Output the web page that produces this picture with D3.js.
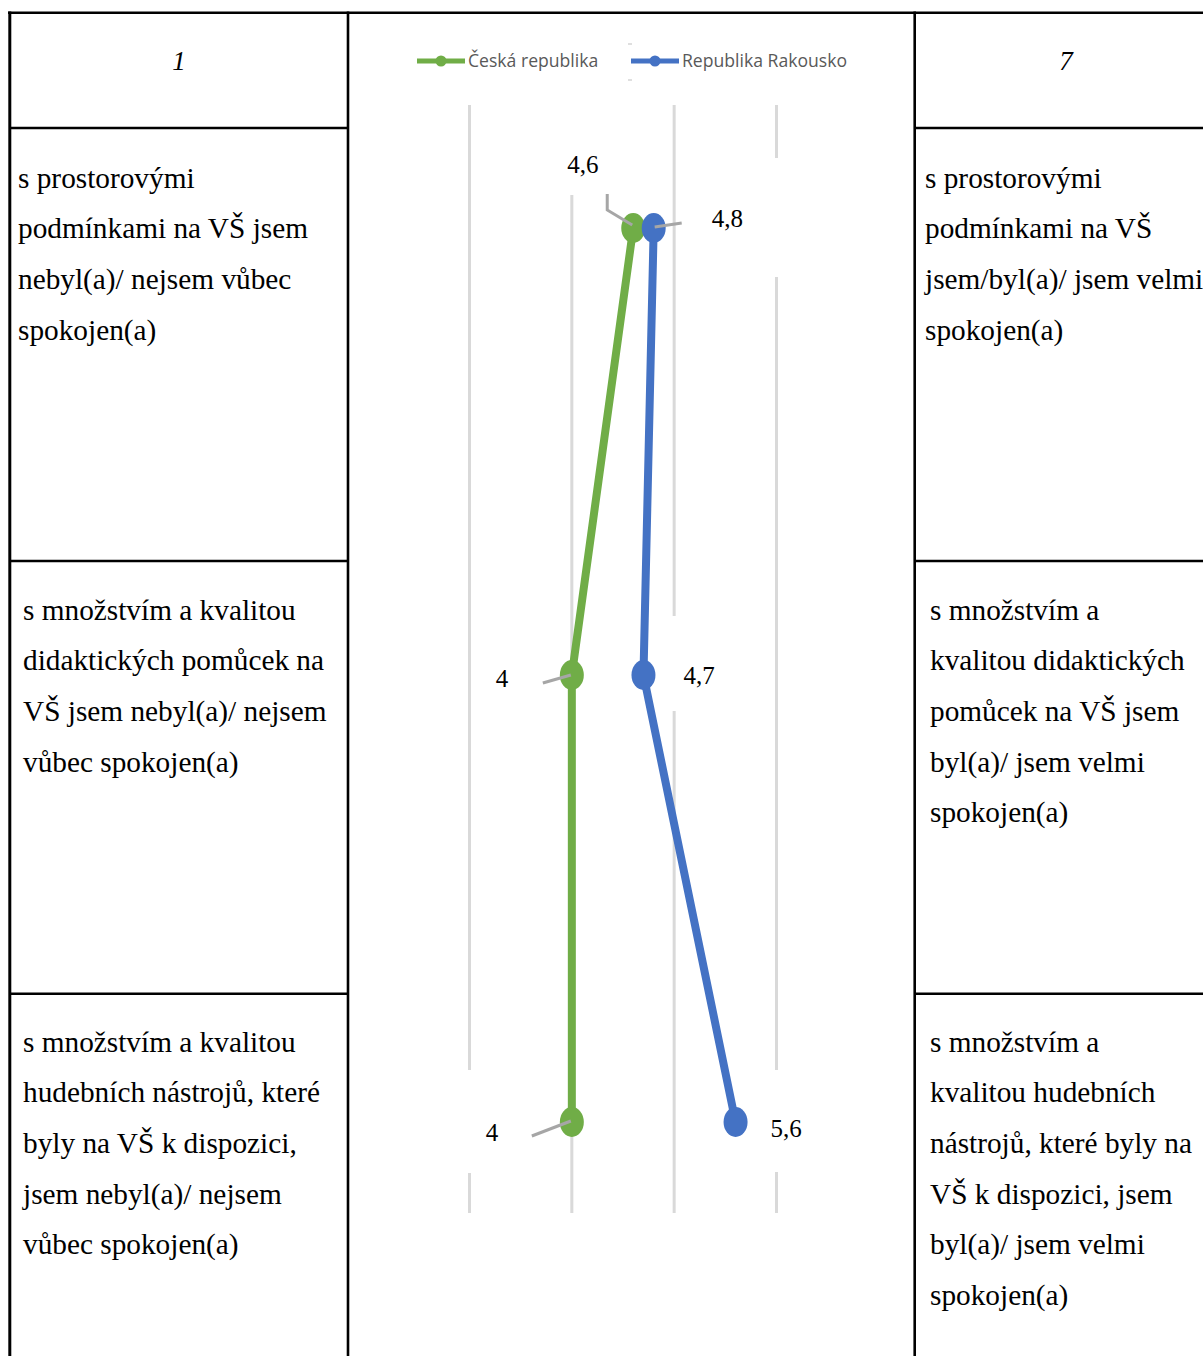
<!DOCTYPE html>
<html><head><meta charset="utf-8">
<script src="https://cdn.jsdelivr.net/npm/d3@7"></script>
<style>body{margin:0;background:#fff}svg{display:block}</style>
</head><body><svg id="c" width="1203" height="1356"></svg>
<script>
// ---------- data ----------
const categories = ["prostorové podmínky", "didaktické pomůcky", "hudební nástroje"];
const czechValues = [4.6, 4, 4];
const austriaValues = [4.8, 4.7, 5.6];
const seriesNames = ["Česká republika", "Republika Rakousko"];
const gridTicks = [3, 4, 5, 6];
const headerLabels = ["1", "7"];
const leftTexts = [
  ["s prostorovými", "podmínkami na VŠ jsem", "nebyl(a)/ nejsem vůbec", "spokojen(a)"],
  ["s množstvím a kvalitou", "didaktických pomůcek na", "VŠ jsem nebyl(a)/ nejsem", "vůbec spokojen(a)"],
  ["s množstvím a kvalitou", "hudebních nástrojů, které", "byly na VŠ k dispozici,", "jsem nebyl(a)/ nejsem", "vůbec spokojen(a)"]
];
const rightTexts = [
  ["s prostorovými", "podmínkami na VŠ", "jsem/byl(a)/ jsem velmi", "spokojen(a)"],
  ["s množstvím a", "kvalitou didaktických", "pomůcek na VŠ jsem", "byl(a)/ jsem velmi", "spokojen(a)"],
  ["s množstvím a", "kvalitou hudebních", "nástrojů, které byly na", "VŠ k dispozici, jsem", "byl(a)/ jsem velmi", "spokojen(a)"]
];

// ---------- layout / style ----------
const colors = ["#70AD47", "#4472C4"];
const W = 1203, H = 1356;
const svg = d3.select("#c");
const serif = "'Liberation Serif','Times New Roman',serif";
const sans = "'Open Sans','Noto Sans',sans-serif";

const x = d3.scaleLinear().domain([3, 6]).range([469.5, 776.5]);
const y = d3.scalePoint().domain(categories).range([228, 1122]);

// table
const tbl = svg.append("g").attr("stroke", "#000").attr("fill", "none");
const hLine = (x1, x2, yy, w) => tbl.append("line").attr("x1", x1).attr("x2", x2).attr("y1", yy).attr("y2", yy).attr("stroke-width", w);
const vLine = (xx, y1, y2, w) => tbl.append("line").attr("x1", xx).attr("x2", xx).attr("y1", y1).attr("y2", y2).attr("stroke-width", w);
hLine(8, W, 12.8, 2.5);
vLine(9.8, 11.5, H, 3);
vLine(348, 11.5, H, 2.6);
vLine(914.7, 11.5, H, 2.6);
[128, 561, 993.7].forEach(yy => { hLine(9, 348, yy, 2.5); hLine(914.7, W, yy, 2.5); });

// header numbers
svg.append("text").attr("x", 179).attr("y", 70).attr("text-anchor", "middle")
  .attr("font-family", serif).attr("font-style", "italic").attr("font-size", 27).text(headerLabels[0]);
svg.append("text").attr("x", 1066).attr("y", 70).attr("text-anchor", "middle")
  .attr("font-family", serif).attr("font-style", "italic").attr("font-size", 27).text(headerLabels[1]);

// cell texts
const firstBase = [187.5, 619.5, 1051.5];
const leftX = [18, 23, 23], rightX = [925, 930, 930];
const lh = 50.7;
function cell(lines, xx, y0) {
  const t = svg.append("text").attr("font-family", serif).attr("font-size", 29.3).attr("fill", "#000");
  lines.forEach((s, i) => t.append("tspan").attr("x", xx).attr("y", y0 + i * lh).text(s));
}
leftTexts.forEach((l, i) => cell(l, leftX[i], firstBase[i]));
rightTexts.forEach((l, i) => cell(l, rightX[i], firstBase[i]));

// gridlines
svg.append("g").selectAll("line").data(gridTicks).join("line")
  .attr("x1", d => x(d)).attr("x2", d => x(d)).attr("y1", 105).attr("y2", 1213)
  .attr("stroke", "#d9d9d9").attr("stroke-width", 3);

// label layout (offsets relative to point)
const labelLayout = [
  [ {dx: -66, dy: -55, box: [-78, -125, -21, -33], leader: [[-26, -34], [-26, -18], [-1, -3]]},
    {dx: -76, dy: 12, box: [-92, -34, -27, 36], leader: [[-29, 8], [-1, 0]]},
    {dx: -86, dy: 19, box: [-117, -52, -47, 51], leader: [[-40, 14], [-1, -1]]} ],
  [ {dx: 58, dy: -1, box: [42, -70, 137, 49], leader: [[1, -1], [28, -5]]},
    {dx: 40, dy: 9, box: [25, -59, 97, 36], leader: null},
    {dx: 35, dy: 15, box: [25, -52, 80, 50], leader: null} ]
];

const series = [czechValues, austriaValues].map((vals, s) => ({
  name: seriesNames[s], color: colors[s],
  points: vals.map((v, i) => ({v, cat: categories[i], px: x(v), py: y(categories[i]), lay: labelLayout[s][i]}))
}));

// label background boxes (hide gridlines behind labels)
const boxG = svg.append("g");
series.forEach(sr => sr.points.forEach(p => {
  const b = p.lay.box;
  boxG.append("rect").attr("x", p.px + b[0]).attr("y", p.py + b[1])
    .attr("width", b[2] - b[0]).attr("height", b[3] - b[1]).attr("fill", "#fff");
}));

// lines and markers
const line = d3.line().x(d => d.px).y(d => d.py);
series.forEach(sr => {
  svg.append("path").datum(sr.points).attr("d", line).attr("fill", "none")
    .attr("stroke", sr.color).attr("stroke-width", 8).attr("stroke-linejoin", "round");
});
series.forEach(sr => {
  svg.append("g").selectAll("ellipse").data(sr.points).join("ellipse")
    .attr("cx", d => d.px).attr("cy", d => d.py).attr("rx", 12).attr("ry", 15).attr("fill", sr.color);
});

// leaders
const leaderLine = d3.line();
series.forEach(sr => sr.points.forEach(p => {
  if (!p.lay.leader) return;
  svg.append("path").attr("d", leaderLine(p.lay.leader.map(q => [p.px + q[0], p.py + q[1]])))
    .attr("fill", "none").attr("stroke", "#a6a6a6").attr("stroke-width", 3);
}));

// value labels
const fmt = v => String(v).replace(".", ",");
series.forEach(sr => sr.points.forEach(p => {
  svg.append("text").attr("x", p.px + p.lay.dx).attr("y", p.py + p.lay.dy)
    .attr("font-family", serif).attr("font-size", 25).attr("fill", "#000").text(fmt(p.v));
}));

// legend
const legX = [417, 631];
series.forEach((sr, i) => {
  const g = svg.append("g").attr("transform", `translate(${legX[i]},61)`);
  g.append("line").attr("x1", 0).attr("x2", 48).attr("stroke", sr.color).attr("stroke-width", 5);
  g.append("circle").attr("cx", 24).attr("r", 5.5).attr("fill", sr.color);
  g.append("text").attr("x", 51).attr("y", 6).attr("font-family", sans).attr("font-size", 17.6)
    .attr("fill", "#595959").text(sr.name);
});
// tiny selection marks beside legend
[44, 80].forEach(yy => svg.append("line").attr("x1", 628).attr("x2", 632).attr("y1", yy).attr("y2", yy)
  .attr("stroke", "#bfbfbf").attr("stroke-width", 1));
</script></body></html>
